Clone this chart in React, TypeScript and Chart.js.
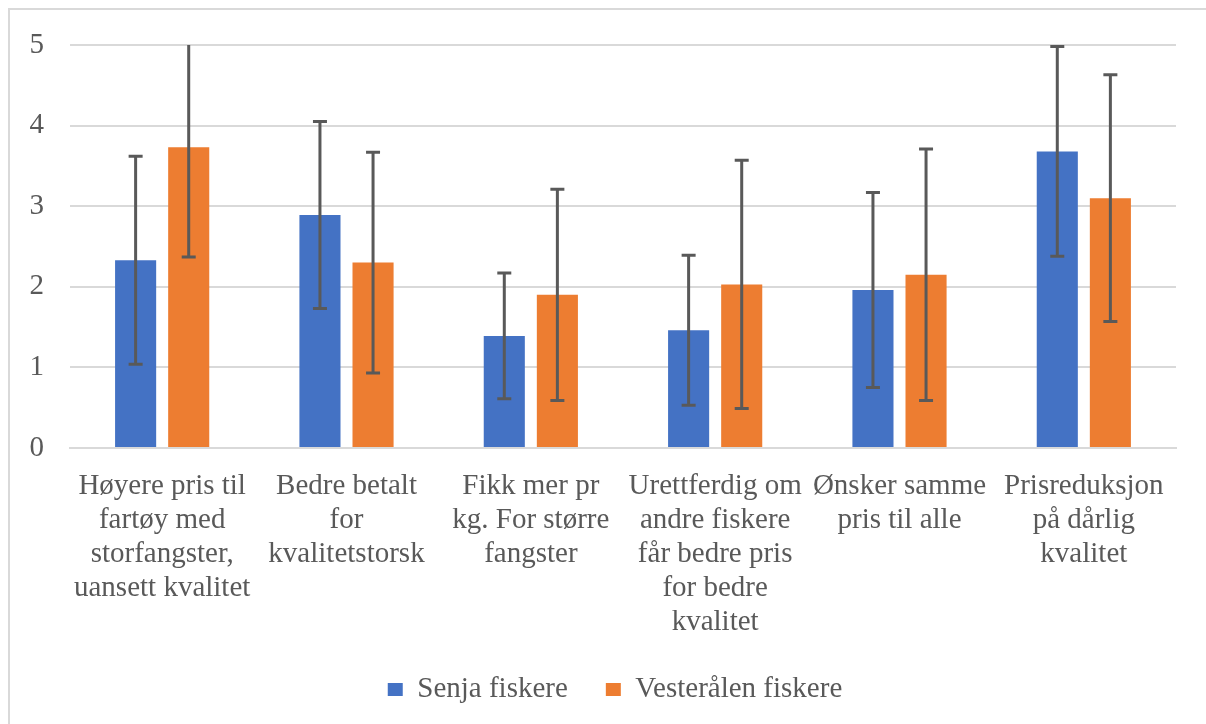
import React, { useEffect, useRef } from "react";
import { Chart, registerables } from "chart.js";

Chart.register(...registerables);

const categories: string[][] = [
  ["Høyere pris til", "fartøy med", "storfangster,", "uansett kvalitet"],
  ["Bedre betalt", "for", "kvalitetstorsk"],
  ["Fikk mer pr", "kg. For større", "fangster"],
  ["Urettferdig om", "andre fiskere", "får bedre pris", "for bedre", "kvalitet"],
  ["Ønsker samme", "pris til alle"],
  ["Prisreduksjon", "på dårlig", "kvalitet"],
];
const senjaMeans = [2.33, 2.89, 1.39, 1.46, 1.96, 3.68];
const senjaErrors = [1.29, 1.16, 0.78, 0.93, 1.21, 1.3];
const vesteraalenMeans = [3.73, 2.3, 1.9, 2.03, 2.15, 3.1];
const vesteraalenErrors = [1.36, 1.37, 1.31, 1.54, 1.56, 1.53];
const seriesNames = ["Senja fiskere", "Vesterålen fiskere"];
const yMin = 0;
const yMax = 5;

const FONT = "'Liberation Serif', 'Times New Roman', serif";
const TEXT = "#595959";
const GRID = "#d9d9d9";

const errorBarPlugin = {
  id: "errorBars",
  afterDatasetsDraw(chart: any) {
    const { ctx, chartArea, scales } = chart;
    const y = scales.y;
    ctx.save();
    ctx.beginPath();
    ctx.rect(chartArea.left, chartArea.top, chartArea.right - chartArea.left, chartArea.bottom - chartArea.top);
    ctx.clip();
    ctx.strokeStyle = "#595959";
    ctx.lineWidth = 3;
    chart.data.datasets.forEach((ds: any, i: number) => {
      const meta = chart.getDatasetMeta(i);
      meta.data.forEach((bar: any, j: number) => {
        const v = ds.data[j];
        const e = ds.errors[j];
        const x = bar.x;
        const yTop = y.getPixelForValue(v + e);
        const yBot = y.getPixelForValue(v - e);
        const cap = 7;
        ctx.beginPath();
        ctx.moveTo(x, yTop);
        ctx.lineTo(x, yBot);
        ctx.moveTo(x - cap, yTop);
        ctx.lineTo(x + cap, yTop);
        ctx.moveTo(x - cap, yBot);
        ctx.lineTo(x + cap, yBot);
        ctx.stroke();
      });
    });
    ctx.restore();
  },
};

const layoutTweakPlugin = {
  id: "layoutTweak",
  afterLayout(chart: any) {
    const lg = chart.legend;
    if (lg) {
      lg.left += 12;
      lg.right += 12;
    }
    if (chart.scales.x) {
      chart.scales.x.bottom = chart.height;
    }
  },
};

export default function App() {
  const ref = useRef<HTMLCanvasElement | null>(null);
  useEffect(() => {
    if (!ref.current) return;
    const chart = new Chart(ref.current, {
      type: "bar",
      data: {
        labels: categories,
        datasets: [
          {
            label: seriesNames[0],
            data: senjaMeans,
            errors: senjaErrors,
            backgroundColor: "#4472C4",
            borderWidth: 0,
          } as any,
          {
            label: seriesNames[1],
            data: vesteraalenMeans,
            errors: vesteraalenErrors,
            backgroundColor: "#ED7D31",
            borderWidth: 0,
          } as any,
        ],
      },
      options: {
        responsive: false,
        animation: false,
        devicePixelRatio: 1,
        layout: { padding: { top: 45, right: 30, bottom: 10, left: 30 } },
        datasets: { bar: { categoryPercentage: 0.576, barPercentage: 0.774 } },
        scales: {
          x: {
            afterFit(scale: any) {
              scale.height = 189;
            },
            grid: { display: false, drawTicks: false },
            border: { display: true, color: GRID, width: 2 },
            ticks: {
              color: TEXT,
              font: { family: FONT, size: 29, lineHeight: "34px" } as any,
              maxRotation: 0,
              minRotation: 0,
              autoSkip: false,
              padding: 21,
            },
          },
          y: {
            min: yMin,
            max: yMax,
            afterFit(scale: any) {
              scale.width = 40;
            },
            grid: { color: GRID, lineWidth: 2, drawTicks: false },
            border: { display: false },
            ticks: {
              stepSize: 1,
              color: TEXT,
              font: { family: FONT, size: 29 },
              padding: 26,
            },
          },
        },
        plugins: {
          legend: {
            position: "bottom",
            labels: {
              color: TEXT,
              font: { family: FONT, size: 29 },
              boxWidth: 15,
              boxHeight: 13,
              padding: 38,
            },
          },
          tooltip: { enabled: false },
        },
      },
      plugins: [errorBarPlugin, layoutTweakPlugin],
    });
    return () => chart.destroy();
  }, []);

  return (
    <div style={{ position: "fixed", left: 0, top: 0, width: 1206, height: 724, background: "#fff", overflow: "hidden" }}>
      <div
        style={{
          position: "absolute",
          left: 8,
          top: 8,
          width: 1240,
          height: 760,
          borderLeft: `2px solid ${GRID}`,
          borderTop: `2px solid ${GRID}`,
        }}
      />
      <canvas ref={ref} width={1206} height={724} style={{ position: "absolute", left: 0, top: 0 }} />
    </div>
  );
}
